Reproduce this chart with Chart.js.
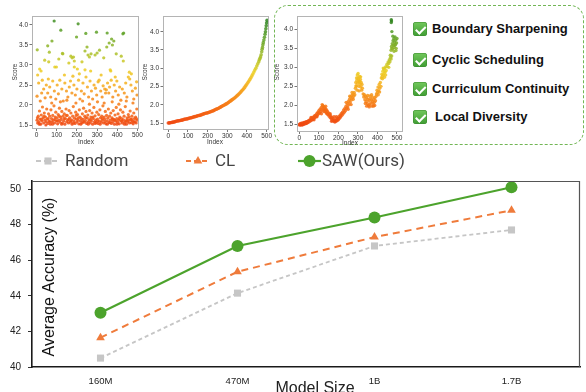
<!DOCTYPE html>
<html>
<head>
<meta charset="utf-8">
<script src="https://cdn.jsdelivr.net/npm/chart.js"></script>
<style>
  html,body{margin:0;padding:0;background:#fff;}
  #page{position:relative;width:586px;height:392px;overflow:hidden;background:#fff;}
  canvas{position:absolute;}
  #box{position:absolute;left:274px;top:5px;width:310px;height:140px;box-sizing:border-box;
       border:1.6px dashed #72b655;border-radius:14px;}
  .cb{position:absolute;width:14px;height:14px;border-radius:3px;
      background:linear-gradient(#72c85c,#3f9c33);box-shadow:0 0 0 0.5px #3a8a2e inset;}
  .cb::after{content:'';position:absolute;left:4.6px;top:1.6px;width:3.5px;height:7.5px;
      border:solid #fff;border-width:0 2px 2px 0;transform:rotate(45deg);}
  .ct{position:absolute;font:bold 13px "Liberation Sans",Arial,sans-serif;color:#111;white-space:nowrap;line-height:16px;}
</style>
</head>
<body>
<div id="page">
  <div id="box"></div>
  <canvas id="s1" width="145" height="150" style="left:0;top:0;width:145px;height:150px"></canvas>
  <canvas id="s2" width="140" height="150" style="left:135px;top:0;width:140px;height:150px"></canvas>
  <canvas id="s3" width="140" height="150" style="left:270px;top:0;width:140px;height:150px"></canvas>
  <div id="checks"></div>
  <canvas id="main" width="586" height="247" style="left:0;top:145px;width:586px;height:247px"></canvas>
</div>
<script>
// ---------------- data ----------------
const categories = ['160M', '470M', '1B', '1.7B'];
const randomAcc = [40.5, 44.15, 46.8, 47.7];
const clAcc = [41.65, 45.35, 47.3, 48.8];
const sawAcc = [43.05, 46.8, 48.4, 50.1];
const accTicks = [40, 42, 44, 46, 48, 50];
const seriesNames = ['Random', 'CL', 'SAW(Ours)'];

const checkItems = ['Boundary Sharpening', 'Cyclic Scheduling', 'Curriculum Continuity', 'Local Diversity'];

const indexTicks = [0, 100, 200, 300, 400, 500];
const scoreTicks = [1.5, 2.0, 2.5, 3.0, 3.5, 4.0];

// random order: [index, score]
const randomOrder = [
[87,4.10],[206,4.03],[120,3.87],[244,3.79],[297,3.82],[350,3.80],[428,3.78],[432,3.80],[198,3.70],[76,3.60],
[55,3.48],[63,3.32],[3,3.38],[40,3.12],[60,3.08],[110,3.15],[128,3.29],[130,3.28],[170,3.22],[176,3.18],
[183,3.20],[187,3.10],[160,3.05],[250,3.45],[240,3.35],[255,3.25],[262,3.20],[270,3.28],[290,3.25],[300,3.30],
[312,3.37],[333,3.18],[348,3.45],[360,3.55],[372,3.65],[376,3.50],[383,3.60],[395,3.28],[420,3.22],[430,3.10],
[225,3.08],[98,2.95],[90,2.95],[187,2.95],[202,2.90],[240,2.88],[268,2.85],[365,2.88],[368,2.85],[460,2.82],
[15,2.90],[22,2.85],[5,2.75],
[10,2.55],[28,2.62],[35,2.40],[48,2.50],[55,2.30],[65,2.45],[70,2.20],[80,2.60],[88,2.35],[95,2.15],
[102,2.50],[108,2.28],[115,2.62],[125,2.40],[132,2.10],[140,2.55],[148,2.35],[155,2.20],[162,2.45],[168,2.60],
[175,2.30],[180,2.72],[185,2.50],[192,2.25],[200,2.40],[208,2.62],[215,2.15],[222,2.35],[230,2.55],[236,2.28],
[245,2.70],[252,2.45],[258,2.20],[265,2.60],[272,2.35],[278,2.15],[285,2.50],[292,2.42],[298,2.25],[305,2.58],
[310,2.62],[318,2.35],[325,2.20],[330,2.48],[338,2.40],[342,2.30],[346,2.38],[352,2.55],[358,2.30],[362,2.45],
[370,2.62],[378,2.20],[385,2.50],[392,2.35],[398,2.60],[405,2.25],[412,2.45],[418,2.12],[425,2.40],[435,2.30],
[442,2.55],[448,2.20],[455,2.70],[462,2.65],[468,2.50],[475,2.35],[482,2.15],[490,2.42],[496,2.58],[18,2.10],
[42,2.18],[75,2.05],[118,2.08],[150,2.12],[195,2.05],[228,2.10],[262,2.02],[302,2.08],[335,2.05],[375,2.08],
[408,2.02],[445,2.10],[478,2.05],[25,2.30],[58,2.65],[138,2.75],[212,2.78],[320,2.75],[390,2.70],[470,2.78],
[2,2.22],[498,2.25],
[2,1.62],[5,1.55],[8,1.72],[11,1.58],[14,1.85],[17,1.65],[20,1.52],[23,1.75],[26,1.60],[29,1.95],
[32,1.68],[35,1.55],[38,1.80],[41,1.62],[44,1.70],[47,1.58],[50,1.90],[53,1.65],[56,1.54],[59,1.78],
[62,1.60],[65,1.72],[68,1.52],[71,1.88],[74,1.66],[77,1.58],[80,1.74],[83,1.62],[86,1.98],[89,1.55],
[92,1.70],[95,1.82],[98,1.60],[101,1.68],[104,1.53],[107,1.76],[110,1.62],[113,1.92],[116,1.57],[119,1.70],
[122,1.64],[125,1.84],[128,1.55],[131,1.72],[134,1.60],[137,1.78],[140,1.52],[143,1.66],[146,1.90],[149,1.58],
[152,1.74],[155,1.62],[158,1.55],[161,1.86],[164,1.68],[167,1.57],[170,1.80],[173,1.63],[176,1.52],[179,1.72],
[182,1.96],[185,1.60],[188,1.67],[191,1.54],[194,1.82],[197,1.65],[200,1.58],[203,1.76],[206,1.62],[209,1.53],
[212,1.88],[215,1.70],[218,1.60],[221,1.66],[224,1.55],[227,1.78],[230,1.64],[233,1.92],[236,1.57],[239,1.72],
[242,1.61],[245,1.84],[248,1.54],[251,1.68],[254,1.75],[257,1.58],[260,1.63],[263,1.86],[266,1.55],[269,1.70],
[272,1.60],[275,1.80],[278,1.52],[281,1.66],[284,1.94],[287,1.58],[290,1.73],[293,1.62],[296,1.56],[299,1.82],
[302,1.65],[305,1.54],[308,1.76],[311,1.60],[314,1.88],[317,1.68],[320,1.57],[323,1.72],[326,1.62],[329,1.98],
[332,1.55],[335,1.70],[338,1.64],[341,1.84],[344,1.53],[347,1.74],[350,1.60],[353,1.67],[356,1.90],[359,1.56],
[362,1.72],[365,1.62],[368,1.80],[371,1.54],[374,1.68],[377,1.58],[380,1.86],[383,1.64],[386,1.52],[389,1.75],
[392,1.60],[395,1.94],[398,1.66],[401,1.57],[404,1.78],[407,1.62],[410,1.53],[413,1.70],[416,1.88],[419,1.60],
[422,1.66],[425,1.55],[428,1.82],[431,1.63],[434,1.72],[437,1.57],[440,1.96],[443,1.60],[446,1.52],[449,1.68],
[452,1.58],[455,1.76],[458,1.62],[461,1.55],[464,1.85],[467,1.64],[470,1.56],[473,1.72],[476,1.60],[479,1.53],
[482,1.80],[485,1.66],[488,1.58],[491,1.70],[494,1.55],[497,1.90],[499,1.62],
[4,1.68],[13,1.52],[24,1.64],[37,1.72],[46,1.50],[57,1.66],[66,1.58],[79,1.52],[91,1.64],[103,1.60],
[112,1.72],[124,1.52],[136,1.66],[147,1.74],[159,1.64],[171,1.60],[183,1.55],[196,1.74],[207,1.68],[219,1.52],
[231,1.58],[243,1.68],[256,1.52],[268,1.64],[279,1.70],[291,1.54],[303,1.60],[315,1.52],[327,1.66],[339,1.58],
[351,1.52],[363,1.56],[376,1.64],[388,1.62],[399,1.52],[411,1.66],[423,1.60],[436,1.52],[448,1.62],[459,1.70],
[471,1.64],[483,1.58],[495,1.66]
];

// curriculum (sorted) order: [index, score]
const clOrder = [
[0,1.50],[5,1.505],[10,1.51],[15,1.515],[20,1.52],[25,1.525],[30,1.53],[35,1.54],[40,1.55],[45,1.555],
[50,1.56],[55,1.565],[60,1.57],[65,1.575],[70,1.58],[75,1.59],[80,1.60],[85,1.605],[90,1.61],[95,1.615],
[100,1.62],[105,1.63],[110,1.64],[115,1.645],[120,1.65],[125,1.66],[130,1.67],[135,1.675],[140,1.68],[145,1.69],
[150,1.70],[155,1.705],[160,1.71],[165,1.72],[170,1.73],[175,1.74],[180,1.75],[185,1.76],[190,1.77],[195,1.775],
[200,1.78],[205,1.79],[210,1.80],[215,1.81],[220,1.82],[225,1.83],[230,1.84],[235,1.855],[240,1.87],[245,1.88],
[250,1.89],[255,1.905],[260,1.92],[265,1.935],[270,1.95],[275,1.965],[280,1.98],[285,1.995],[290,2.01],[295,2.025],
[300,2.04],[305,2.06],[310,2.08],[315,2.10],[320,2.12],[325,2.14],[330,2.16],[335,2.18],[340,2.20],[345,2.225],
[350,2.25],[355,2.275],[360,2.30],[365,2.33],[370,2.36],[375,2.39],[380,2.42],[385,2.455],[390,2.49],[395,2.53],
[400,2.57],[405,2.61],[410,2.65],[415,2.695],[420,2.74],[425,2.79],[430,2.84],[435,2.895],[440,2.95],[445,3.00],
[450,3.06],[455,3.12],[460,3.18],[463,3.23],[466,3.27],[469,3.31],[472,3.37],[475,3.45],[477,3.52],[479,3.57],
[481,3.64],[483,3.70],[486,3.77],[489,3.85],[492,3.93],[494,4.00],[496,4.08],[498,4.16],[500,4.24],[502,4.31]
];

// SAW order: [index, score]
const sawOrder = [
[0,1.50],[2,1.48],[4,1.52],[6,1.49],[8,1.51],[10,1.53],[12,1.50],[14,1.48],[16,1.52],[18,1.54],
[20,1.50],[22,1.52],[24,1.55],[26,1.51],[28,1.53],[30,1.56],[32,1.52],[34,1.54],[36,1.57],[38,1.53],
[40,1.56],[42,1.58],[44,1.55],
[47,1.60],[50,1.57],[53,1.62],[56,1.59],[59,1.64],[62,1.61],[65,1.67],[68,1.63],[71,1.69],[74,1.66],
[77,1.72],[80,1.68],[83,1.74],[86,1.71],[89,1.78],[92,1.74],[95,1.82],[98,1.78],[60,1.68],[75,1.62],[90,1.70],
[100,1.86],[103,1.80],[106,1.90],[109,1.84],[112,1.94],[115,1.88],[118,1.98],[120,2.00],[122,1.92],[124,1.97],
[126,1.88],[128,1.95],[130,1.90],[132,1.84],[134,1.92],[136,1.86],[138,1.80],[140,1.88],[142,1.78],[144,1.84],
[146,1.76],[113,1.78],[125,1.84],[135,1.98],[117,2.02],
[149,1.80],[152,1.72],[155,1.76],[158,1.68],[161,1.72],[164,1.64],[167,1.68],[170,1.60],[173,1.65],[176,1.58],
[179,1.62],[182,1.56],[185,1.60],[188,1.58],[191,1.64],[194,1.60],[197,1.66],[200,1.62],[165,1.58],[178,1.70],
[190,1.70],[158,1.78],
[203,1.70],[206,1.66],[209,1.74],[212,1.70],[215,1.78],[218,1.74],[221,1.82],[224,1.78],[227,1.88],[230,1.82],
[233,1.92],[236,1.86],[239,1.98],[242,1.92],[245,2.04],[248,1.96],[251,2.10],[254,2.02],[257,2.16],[260,2.08],
[263,2.22],[266,2.14],[269,2.26],[272,2.20],[275,2.30],[278,2.24],[281,2.34],[284,2.28],[240,2.08],[250,1.90],
[258,2.24],[265,2.02],[270,2.34],[276,2.16],
[287,2.45],[289,2.60],[291,2.52],[293,2.72],[295,2.66],[297,2.80],[299,2.58],[301,2.84],[303,2.70],[305,2.50],
[307,2.64],[309,2.76],[311,2.55],[313,2.68],[315,2.48],[317,2.60],[319,2.40],[321,2.55],[323,2.45],[296,2.40],
[300,2.72],[306,2.38],[310,2.62],[292,2.50],[314,2.75],[304,2.62],
[327,2.30],[330,2.22],[333,2.28],[336,2.15],[339,2.24],[342,2.10],[345,2.20],[348,2.05],[351,2.16],[354,2.00],
[357,2.12],[360,2.02],[363,2.18],[366,2.06],[369,2.14],[372,1.98],[375,2.10],[378,2.04],[381,2.16],[384,2.08],
[387,2.20],[390,2.12],[393,2.24],[338,2.05],[350,2.26],[362,2.25],[374,2.22],[386,2.00],[345,1.98],[358,1.96],
[370,2.28],[380,1.98],
[395,2.30],[398,2.40],[400,2.34],[403,2.48],[406,2.38],[409,2.55],[412,2.45],[415,2.60],[418,2.50],[404,2.28],[411,2.35],
[420,2.72],[423,2.82],[425,2.76],[428,2.90],[430,2.80],[433,2.95],[435,2.85],[438,2.98],[440,2.88],[443,3.02],
[445,2.92],[426,2.70],[436,2.74],[430,2.98],[442,2.80],
[449,3.08],[452,3.02],[455,3.14],[458,3.10],[461,3.20],[464,3.15],[467,3.26],[470,3.22],[473,3.30],[458,3.00],[466,3.32],
[470,3.45],[472,3.55],[474,3.50],[476,3.62],[478,3.48],[480,3.70],[482,3.58],[484,3.75],[486,3.52],[488,3.66],
[490,3.80],[492,3.60],[494,3.72],[496,3.50],[498,3.64],[500,3.76],[485,3.42],[495,3.44],[479,3.82],[489,3.58],
[474,3.94],[471,4.18],[472,4.22],[471,4.25]
];

// ---------------- styles ----------------
const FONT = '"Liberation Sans", Arial, sans-serif';
const colorStops = [
  [1.5, [240, 72, 18]], [2.0, [246, 120, 22]], [2.5, [246, 172, 30]], [2.9, [236, 208, 36]],
  [3.3, [170, 192, 42]], [3.8, [96, 162, 40]], [4.3, [44, 130, 32]]
];
function scoreColor(s) {
  if (s <= colorStops[0][0]) return `rgba(${colorStops[0][1].join(',')},0.85)`;
  for (let i = 1; i < colorStops.length; i++) {
    if (s <= colorStops[i][0]) {
      const [s0, c0] = colorStops[i - 1], [s1, c1] = colorStops[i];
      const t = (s - s0) / (s1 - s0);
      const c = c0.map((v, k) => Math.round(v + (c1[k] - v) * t));
      return `rgba(${c.join(',')},0.85)`;
    }
  }
  return `rgba(${colorStops[colorStops.length - 1][1].join(',')},0.85)`;
}

// checklist
const checkRows = [29, 60, 89, 117];
const checksEl = document.getElementById('checks');
checkItems.forEach((t, i) => {
  const b = document.createElement('div');
  b.className = 'cb';
  b.style.left = '413px'; b.style.top = (checkRows[i] - 7) + 'px';
  checksEl.appendChild(b);
  const d = document.createElement('div');
  d.className = 'ct';
  d.textContent = t;
  d.style.left = (i === 3 ? 435 : 432) + 'px'; d.style.top = (checkRows[i] - 8) + 'px';
  checksEl.appendChild(d);
});

// ---------------- scatter panels ----------------
const framePlugin = {
  id: 'frame',
  afterDraw(chart, args, opts) {
    const { ctx, chartArea: a } = chart;
    ctx.save();
    ctx.strokeStyle = '#b4b4b4';
    ctx.lineWidth = 1;
    ctx.strokeRect(Math.round(a.left) + 0.5, Math.round(a.top) + 0.5,
                   Math.round(a.right - a.left) - 1, Math.round(a.bottom - a.top) - 1);
    ctx.fillStyle = '#333';
    ctx.font = '6.5px ' + FONT;
    ctx.textAlign = 'center';
    ctx.textBaseline = 'middle';
    ctx.fillText('Index', opts.indexX, opts.indexY);
    ctx.translate(opts.scoreX, opts.scoreY);
    ctx.rotate(-Math.PI / 2);
    ctx.fillText('Score', 0, 0);
    ctx.restore();
  }
};

function makeScatter(id, pts, cfg) {
  new Chart(document.getElementById(id), {
    type: 'scatter',
    data: {
      datasets: [{
        data: pts.map(([x, y]) => ({ x, y })),
        pointRadius: cfg.r,
        pointHoverRadius: cfg.r,
        borderWidth: 0,
        backgroundColor: c => scoreColor(c.raw ? c.raw.y : 2)
      }]
    },
    options: {
      responsive: false,
      animation: false,
      events: [],
      layout: { padding: { top: cfg.top, right: cfg.right, left: 0, bottom: 0 } },
      plugins: {
        legend: { display: false }, tooltip: { enabled: false },
        frame: { indexX: cfg.indexX, indexY: cfg.indexY, scoreX: cfg.scoreX, scoreY: cfg.scoreY }
      },
      scales: {
        x: {
          type: 'linear', min: cfg.xmin, max: cfg.xmax,
          afterBuildTicks: s => { s.ticks = indexTicks.map(v => ({ value: v })); },
          afterFit: s => { s.height = cfg.xh; },
          ticks: { font: { size: 6.5, family: FONT }, color: '#333', padding: 0.5, maxRotation: 0, autoSkip: false },
          grid: { display: true, drawOnChartArea: false, tickLength: 2, color: '#777' },
          border: { display: false }
        },
        y: {
          type: 'linear', min: cfg.ymin, max: cfg.ymax,
          afterBuildTicks: s => { s.ticks = scoreTicks.map(v => ({ value: v })); },
          afterFit: s => { s.width = cfg.yw; },
          ticks: { font: { size: 6.5, family: FONT }, color: '#333', padding: 1.5, autoSkip: false,
                   callback: v => Number(v).toFixed(1) },
          grid: { display: true, drawOnChartArea: false, tickLength: 2.5, color: '#777' },
          border: { display: false }
        }
      }
    },
    plugins: [framePlugin]
  });
}

makeScatter('s1', randomOrder, { r: 1.6, top: 16, right: 6, xh: 21, yw: 32,
  xmin: -23, xmax: 508, ymin: 1.4, ymax: 4.225, indexX: 86, indexY: 142, scoreX: 15, scoreY: 72 });
makeScatter('s2', clOrder, { r: 1.8, top: 16, right: 6, xh: 20, yw: 28,
  xmin: -27, xmax: 512, ymin: 1.31, ymax: 4.43, indexX: 80, indexY: 142, scoreX: 10, scoreY: 72 });
makeScatter('s3', sawOrder, { r: 1.7, top: 16, right: 7, xh: 18, yw: 27,
  xmin: -12, xmax: 531, ymin: 1.3, ymax: 4.35, indexX: 80, indexY: 143, scoreX: 7, scoreY: 72 });

// ---------------- main line chart ----------------
const seriesStyle = [
  { color: '#c6c6c6', width: 1.8, dash: [4, 3], point: 'rect', radius: 5 },
  { color: '#ef7b3b', width: 2, dash: [7, 5], point: 'triangle', radius: 5 },
  { color: '#4ca32c', width: 2.2, dash: [], point: 'circle', radius: 6 }
];
const legendPos = [[36, 60, 65], [186, 210, 215], [298, 321, 322]];

function drawMarker(ctx, style, x, y, r, color) {
  ctx.fillStyle = color;
  ctx.beginPath();
  if (style === 'circle') { ctx.arc(x, y, r, 0, Math.PI * 2); }
  else if (style === 'rect') { const s = r * Math.SQRT1_2; ctx.rect(x - s, y - s, 2 * s, 2 * s); }
  else if (style === 'triangle') {
    ctx.moveTo(x, y - r);
    ctx.lineTo(x + r * 0.866, y + r * 0.5);
    ctx.lineTo(x - r * 0.866, y + r * 0.5);
    ctx.closePath();
  }
  ctx.fill();
}

const mainDecor = {
  id: 'mainDecor',
  afterDraw(chart) {
    const { ctx, chartArea: a } = chart;
    ctx.save();
    // top and right frame lines
    ctx.strokeStyle = '#555';
    ctx.lineWidth = 1.2;
    ctx.beginPath();
    ctx.moveTo(a.left, a.top + 0.5); ctx.lineTo(a.right, a.top + 0.5);
    ctx.moveTo(a.right - 0.5, a.top); ctx.lineTo(a.right - 0.5, a.bottom);
    ctx.stroke();
    // y title inside plot
    ctx.fillStyle = '#111';
    ctx.font = '16px ' + FONT;
    ctx.textAlign = 'center';
    ctx.textBaseline = 'middle';
    ctx.save();
    ctx.translate(50, 132);
    ctx.rotate(-Math.PI / 2);
    ctx.fillText('Average Accuracy (%)', 0, 0);
    ctx.restore();
    // x title
    ctx.fillStyle = '#222';
    ctx.fillText('Model Size', 315, 244);
    // legend
    ctx.font = '17px Roboto, ' + FONT;
    ctx.textAlign = 'left';
    chart.data.datasets.forEach((ds, i) => {
      const st = seriesStyle[i];
      const [x1, x2, tx] = legendPos[i];
      const y = 16;
      ctx.strokeStyle = st.color;
      ctx.lineWidth = st.width;
      ctx.setLineDash(st.dash.length ? [5, 3] : []);
      ctx.beginPath(); ctx.moveTo(x1, y); ctx.lineTo(x2, y); ctx.stroke();
      ctx.setLineDash([]);
      drawMarker(ctx, st.point, (x1 + x2) / 2, y, st.radius, st.color);
      ctx.fillStyle = '#444';
      ctx.fillText(ds.label, tx, y + 1);
    });
    ctx.restore();
  }
};

const seriesValues = [randomAcc, clAcc, sawAcc];
new Chart(document.getElementById('main'), {
  type: 'line',
  data: {
    labels: categories,
    datasets: seriesValues.map((vals, i) => ({
      label: seriesNames[i],
      data: vals,
      borderColor: seriesStyle[i].color,
      backgroundColor: seriesStyle[i].color,
      borderWidth: seriesStyle[i].width,
      borderDash: seriesStyle[i].dash,
      pointStyle: seriesStyle[i].point,
      pointRadius: seriesStyle[i].radius,
      pointHoverRadius: seriesStyle[i].radius,
      pointBorderWidth: 0,
      tension: 0,
      fill: false
    }))
  },
  options: {
    responsive: false,
    animation: false,
    events: [],
    layout: { padding: { top: 36, right: 1, left: 0, bottom: 0 } },
    plugins: { legend: { display: false }, tooltip: { enabled: false } },
    scales: {
      x: {
        offset: true,
        afterFit: s => { s.height = 25; },
        ticks: { font: { size: 9.5, family: FONT }, color: '#222', padding: 9, maxRotation: 0 },
        grid: { display: false, drawTicks: false },
        border: { display: true, color: '#1a1a1a', width: 1.6 }
      },
      y: {
        min: 40, max: 50.45,
        afterBuildTicks: s => { s.ticks = accTicks.map(v => ({ value: v })); },
        afterFit: s => { s.width = 32; },
        ticks: { font: { size: 10, family: FONT }, color: '#222', padding: 7 },
        grid: { display: true, drawOnChartArea: false, tickLength: 4, color: '#333', lineWidth: 1 },
        border: { display: true, color: '#1a1a1a', width: 1.6 }
      }
    }
  },
  plugins: [mainDecor]
});
</script>
</body>
</html>
